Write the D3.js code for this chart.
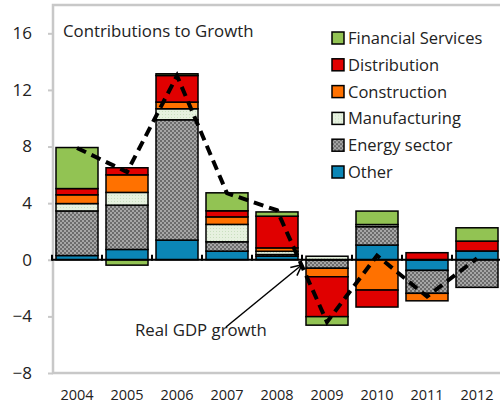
<!DOCTYPE html>
<html>
<head>
<meta charset="utf-8">
<script src="https://cdn.jsdelivr.net/npm/d3@7"></script>
<style>
  body { margin: 0; background: #fff; }
  svg { display: block; font-family: "Open Sans", sans-serif; }
</style>
</head>
<body>
<svg width="500" height="406"></svg>
<script>
var years = ["2004", "2005", "2006", "2007", "2008", "2009", "2010", "2011", "2012"];
// sector contributions, bottom of the stack first
var other         = [0.30, 0.73, 1.39, 0.61, 0.25, 0.00, 1.04, -0.75, 0.62];
var energy        = [3.15, 3.13, 8.50, 0.66, 0.12, -0.60, 1.30, -1.62, -1.95];
var manufacturing = [0.52, 0.90, 0.78, 1.23, 0.23, 0.25, 0.15, 0.00, 0.00];
var construction  = [0.62, 1.24, 0.47, 0.53, 0.24, -0.60, -2.14, -0.53, 0.00];
var distribution  = [0.44, 0.50, 1.88, 0.43, 2.24, -2.82, -1.20, 0.50, 0.70];
var financial     = [2.90, -0.38, 0.12, 1.27, 0.30, -0.60, 0.95, 0.00, 0.94];
var gdp           = [7.9, 6.2, 13.0, 4.7, 3.5, -4.4, 0.3, -2.6, 0.1];
var yTicks = [-8, -4, 0, 4, 8, 12, 16];

var seriesNames = ["Other", "Energy sector", "Manufacturing", "Construction", "Distribution", "Financial Services"];
var seriesData = [other, energy, manufacturing, construction, distribution, financial];
var fills = ["#0b86b6", "url(#energyPat)", "url(#manuPat)", "#ff7100", "#e00000", "#92c353"];

var svg = d3.select("svg");

// patterns for the textured series
var defs = svg.append("defs");
var ep = defs.append("pattern").attr("id", "energyPat")
    .attr("patternUnits", "userSpaceOnUse").attr("width", 4).attr("height", 4);
ep.append("rect").attr("width", 4).attr("height", 4).attr("fill", "#a6a6a6");
ep.append("rect").attr("width", 2).attr("height", 2).attr("fill", "#6c6c6c");
ep.append("rect").attr("x", 2).attr("y", 2).attr("width", 2).attr("height", 2).attr("fill", "#6c6c6c");
var mp = defs.append("pattern").attr("id", "manuPat")
    .attr("patternUnits", "userSpaceOnUse").attr("width", 3).attr("height", 3);
mp.append("rect").attr("width", 3).attr("height", 3).attr("fill", "#e6f1df");
mp.append("rect").attr("width", 1).attr("height", 1).attr("fill", "#c9dfbf");

// plot area (right edge runs off the picture)
var pLeft = 53, pRight = 503, pTop = 5, pBottom = 373;

var x = d3.scaleBand().domain(years).range([pLeft - 1, pRight - 1]).paddingInner(0.16).paddingOuter(0.08);
var y = d3.scaleLinear().domain([-8, 18]).range([pBottom, pTop]);

// frame of the plot area
svg.append("rect")
    .attr("x", pLeft).attr("y", pTop)
    .attr("width", pRight - pLeft + 20).attr("height", pBottom - pTop)
    .attr("fill", "none").attr("stroke", "#c8c8c8").attr("stroke-width", 2.5);

// y axis ticks + labels
var yAxis = svg.append("g").attr("transform", "translate(" + pLeft + ",0)")
    .call(d3.axisLeft(y).tickValues(yTicks).tickSize(5).tickPadding(16).tickFormat(d3.format("d")));
yAxis.select(".domain").remove();
yAxis.selectAll(".tick line").attr("stroke", "#c8c8c8").attr("stroke-width", 2);
yAxis.selectAll(".tick text").attr("font-size", 17).attr("fill", "#222")
    .attr("font-family", "Open Sans, sans-serif");

// stacked bars
var rows = years.map(function(yr, i) {
    var r = { year: yr };
    seriesNames.forEach(function(s, k) { r[s] = seriesData[k][i]; });
    return r;
});
var stack = d3.stack().keys(seriesNames).offset(d3.stackOffsetDiverging)(rows);

var bars = svg.append("g");
stack.forEach(function(layer, k) {
    bars.selectAll(null)
        .data(layer.filter(function(d) { return d[1] - d[0] !== 0; }))
        .join("rect")
        .attr("x", function(d) { return x(d.data.year); })
        .attr("width", x.bandwidth())
        .attr("y", function(d) { return y(Math.max(d[0], d[1])); })
        .attr("height", function(d) { return Math.abs(y(d[0]) - y(d[1])); })
        .attr("fill", fills[k])
        .attr("stroke", "#000")
        .attr("stroke-width", 1.5);
});

// category axis at zero
var xAxis = svg.append("g").attr("transform", "translate(0," + y(0) + ")");
xAxis.append("line").attr("x1", pLeft - 1).attr("x2", 500)
    .attr("stroke", "#000").attr("stroke-width", 2);
xAxis.selectAll("line.tk")
    .data(d3.range(years.length + 1))
    .join("line").attr("class", "tk")
    .attr("x1", function(i) { return pLeft - 1 + i * x.step(); })
    .attr("x2", function(i) { return pLeft - 1 + i * x.step(); })
    .attr("y1", -5).attr("y2", 1)
    .attr("stroke", "#000").attr("stroke-width", 2);

// year labels at the bottom
svg.append("g").selectAll("text")
    .data(years).join("text")
    .attr("x", function(d) { return x(d) + x.bandwidth() / 2; })
    .attr("y", 400)
    .attr("text-anchor", "middle")
    .attr("font-size", 14.5)
    .attr("fill", "#222")
    .text(function(d) { return d; });

// real GDP growth line
var line = d3.line()
    .x(function(d, i) { return x(years[i]) + x.bandwidth() / 2; })
    .y(function(d) { return y(d); });
svg.append("path")
    .datum(gdp)
    .attr("d", line)
    .attr("fill", "none")
    .attr("stroke", "#000")
    .attr("stroke-width", 4)
    .attr("stroke-dasharray", "10,6");

// title
svg.append("text").attr("x", 63).attr("y", 37)
    .attr("font-size", 16.8).attr("fill", "#222")
    .text("Contributions to Growth");

// annotation
svg.append("text").attr("x", 135).attr("y", 336)
    .attr("font-size", 16.8).attr("fill", "#222")
    .text("Real GDP growth");
var tipX = x("2009") - 4, tipY = y(0) + 5;
svg.append("line")
    .attr("x1", 226).attr("y1", 327).attr("x2", tipX).attr("y2", tipY)
    .attr("stroke", "#000").attr("stroke-width", 1.5);
var ang = Math.atan2(tipY - 327, tipX - 226);
[-0.45, 0.45].forEach(function(a) {
    svg.append("line")
        .attr("x1", tipX).attr("y1", tipY)
        .attr("x2", tipX - 12 * Math.cos(ang + a))
        .attr("y2", tipY - 12 * Math.sin(ang + a))
        .attr("stroke", "#000").attr("stroke-width", 1.5);
});

// legend, top series first
var legend = svg.append("g").attr("transform", "translate(332,32)");
var legendNames = seriesNames.slice().reverse();
var legendFills = fills.slice().reverse();
legendNames.forEach(function(n, i) {
    var g = legend.append("g").attr("transform", "translate(0," + (i * 26.8) + ")");
    g.append("rect").attr("width", 12).attr("height", 12)
        .attr("fill", legendFills[i]).attr("stroke", "#000").attr("stroke-width", 1.5);
    g.append("text").attr("x", 16).attr("y", 12)
        .attr("font-size", 16.5).attr("fill", "#222").text(n);
});
</script>
</body>
</html>
